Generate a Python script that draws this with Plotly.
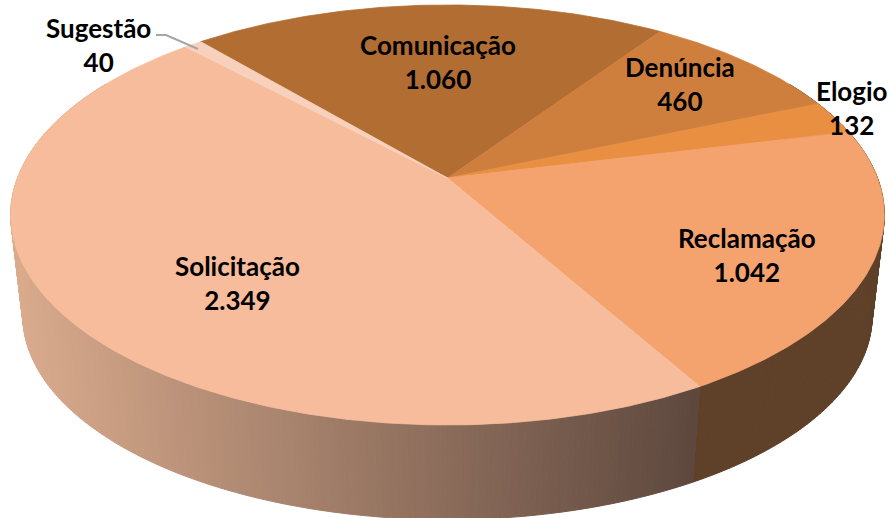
import numpy as np
import plotly.graph_objects as go

categories = ["Comunicação", "Denúncia", "Elogio", "Reclamação", "Solicitação", "Sugestão"]
values = [1060, 460, 132, 1042, 2349, 40]
value_labels = ["1.060", "460", "132", "1.042", "2.349", "40"]

colors = ["#b26d33", "#cf7f3d", "#e98f42", "#f4a26e", "#f7bc9c", "#f8d1bc"]
label_xy = {"Comunicação": (438, 62), "Denúncia": (680, 84), "Elogio": (852, 108),
            "Reclamação": (747, 255), "Solicitação": (237, 283), "Sugestão": (98, 45)}
START_DEG = -40.6
K = 0.176


def project(theta_deg, r=1.0, level=0):
    """Perspective projection of a disc point (clockwise angle from the top)."""
    t = np.radians(theta_deg)
    u, v = r * np.sin(t), r * np.cos(t)
    w = 1 + K * v
    if level == 0:
        cx, cy, a, b = 447.5, 178, 430, 203.5
    else:
        cx, cy, a, b = 447.5, 280, 418, 197.4
    return cx + a * u / w, cy - b * v / w


shares = np.array(values) / sum(values) * 360
edges = START_DEG + np.concatenate([[0], np.cumsum(shares)])

fig = go.Figure()


def lerp_color(c0, c1, f):
    return "rgb({},{},{})".format(*[int(round(p + (q - p) * f)) for p, q in zip(c0, c1)])


def add_poly(xs, ys, color, lw=0.8):
    fig.add_trace(go.Scatter(x=xs, y=ys, mode="lines", fill="toself", fillcolor=color,
                             line=dict(color=color, width=lw), hoverinfo="skip",
                             showlegend=False))


def band(a0, a1, color, pts=3):
    aa = np.linspace(a0, a1, pts)
    tx, ty = project(aa)
    bx, by = project(aa[::-1], level=1)
    add_poly(np.concatenate([tx, bx, tx[:1]]), np.concatenate([ty, by, ty[:1]]), color, lw=1)


rec_end = edges[4]
sol_start = edges[4]

# dark wall under the right-hand slices
for a0 in np.arange(60, rec_end, 0.8):
    band(a0, min(a0 + 0.8, rec_end), "#5f4029")

# lit wall under the large slice: fine gradient bands
for a0 in np.arange(sol_start, 300, 0.6):
    tx, _ = project(a0 + 0.3)
    f = float(np.clip((tx - 10) / 685, 0, 1))
    band(a0, a0 + 0.6, lerp_color((218, 171, 141), (94, 72, 62), f))

# top face
for i, name in enumerate(categories):
    th = np.linspace(edges[i], edges[i + 1], max(int(shares[i] * 2), 8))
    x_rim, y_rim = project(th)
    cx, cy = project(0.0, r=0.0)
    xs = np.concatenate([[cx], x_rim, [cx]])
    ys = np.concatenate([[cy], y_rim, [cy]])
    add_poly(xs, ys, colors[i])

# leader line of the small slice
fig.add_trace(go.Scatter(x=[156, 166, 198], y=[35, 35, 49], mode="lines",
                         line=dict(color="#a6a6a6", width=2), hoverinfo="skip",
                         showlegend=False))

for name, lab in zip(categories, value_labels):
    lx, ly = label_xy[name]
    fig.add_annotation(x=lx, y=ly, xref="x", yref="y", text=f"<b>{name}<br>{lab}</b>",
                       showarrow=False, align="center",
                       font=dict(family="Lato", size=26, color="#000000"))

fig.update_layout(
    width=889, height=518, margin=dict(l=0, r=0, t=0, b=0),
    paper_bgcolor="white", plot_bgcolor="white", showlegend=False,
    xaxis=dict(range=[0, 889], visible=False, fixedrange=True),
    yaxis=dict(range=[518, 0], visible=False, fixedrange=True),
)
fig.write_html("out.html", config={"displayModeBar": False},
               post_script="document.body.style.margin='0';document.documentElement.style.overflow='hidden';")
